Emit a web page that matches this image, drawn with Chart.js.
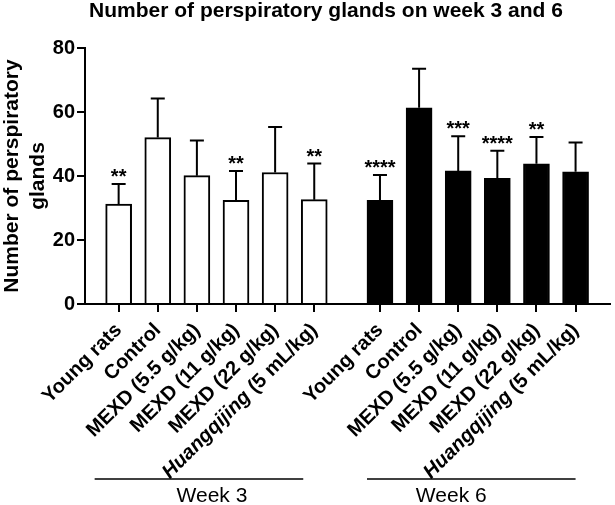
<!DOCTYPE html>
<html>
<head>
<meta charset="utf-8">
<title>Number of perspiratory glands on week 3 and 6</title>
<script src="https://cdn.jsdelivr.net/npm/chart.js@4.4.1/dist/chart.umd.min.js"></script>
<style>
  html, body { margin: 0; padding: 0; background: #fff; }
  #wrap { width: 615px; height: 505px; position: relative; }
</style>
</head>
<body>
<div id="wrap"><canvas id="glandChart"></canvas></div>
<script>
var categories = ['Young rats', 'Control', 'MEXD (5.5 g/kg)', 'MEXD (11 g/kg)', 'MEXD (22 g/kg)', 'Huangqijing (5 mL/kg)'];
var groupLabels = ['Week 3', 'Week 6'];
var week3Mean = [31.2, 52.0, 40.1, 32.4, 41.1, 32.6];
var week3SD = [6.3, 12.2, 11.0, 9.2, 14.2, 11.3];
var week3Stars = ['**', '', '', '**', '', '**'];
var week6Mean = [32.4, 61.3, 41.6, 39.3, 43.8, 41.3];
var week6SD = [7.9, 12.2, 10.8, 8.6, 8.4, 9.2];
var week6Stars = ['****', '', '***', '****', '**', ''];
var yTicks = [0, 20, 40, 60, 80];

var FONT = "'Liberation Sans', Arial, Helvetica, sans-serif";
var GAP = 0.68;            // extra room between the two weeks (in bar slots)
var italicWords = ['Huangqijing'];

// slot of bar i in week w on the linear x scale
function slot(i, w) { return i + w * (categories.length + GAP); }

function points(means, w) {
  return means.map(function(v, i) { return { x: slot(i, w), y: v }; });
}

var allSlots = [];
[0, 1].forEach(function(w) {
  categories.forEach(function(c, i) { allSlots.push(slot(i, w)); });
});

var extras = {
  id: 'extras',
  afterDatasetsDraw: function(chart) {
    var ctx = chart.ctx, ys = chart.scales.y;
    var groups = [
      { mean: week3Mean, sd: week3SD, stars: week3Stars },
      { mean: week6Mean, sd: week6SD, stars: week6Stars }
    ];
    ctx.save();
    ctx.strokeStyle = '#000';
    ctx.fillStyle = '#000';
    ctx.lineWidth = 2;
    groups.forEach(function(g, d) {
      chart.getDatasetMeta(d).data.forEach(function(bar, i) {
        var top = ys.getPixelForValue(g.mean[i] + g.sd[i]);
        ctx.beginPath();
        ctx.moveTo(bar.x, bar.y);
        ctx.lineTo(bar.x, top);
        ctx.moveTo(bar.x - 7, top);
        ctx.lineTo(bar.x + 7, top);
        ctx.stroke();
        if (g.stars[i]) {
          ctx.font = 'bold 20px ' + FONT;
          ctx.textAlign = 'center';
          ctx.textBaseline = 'alphabetic';
          ctx.fillText(g.stars[i], bar.x, top - 1);
        }
      });
    });
    ctx.restore();
  },
  afterDraw: function(chart) {
    var ctx = chart.ctx, xs = chart.scales.x;
    var base = xs.top + 27;
    ctx.save();
    ctx.fillStyle = '#000';
    ctx.strokeStyle = '#000';

    // title
    ctx.font = 'bold 21px ' + FONT;
    ctx.textAlign = 'center';
    ctx.textBaseline = 'alphabetic';
    ctx.fillText('Number of perspiratory glands on week 3 and 6', 326, 17);

    // rotated category labels, mixed italic for the herbal name
    [0, 1].forEach(function(w) {
      categories.forEach(function(name, i) {
        var px = xs.getPixelForValue(slot(i, w));
        ctx.save();
        ctx.translate(px + 4, base);
        ctx.rotate(-Math.PI / 4);
        ctx.textAlign = 'right';
        ctx.textBaseline = 'alphabetic';
        var it = italicWords.filter(function(word) { return name.indexOf(word) === 0; })[0];
        if (it) {
          var rest = name.slice(it.length);
          ctx.font = 'bold 20px ' + FONT;
          var wRest = ctx.measureText(rest).width;
          ctx.fillText(rest, 0, 0);
          ctx.font = 'italic bold 20px ' + FONT;
          ctx.fillText(it, -wRest, 0);
        } else {
          ctx.font = 'bold 20px ' + FONT;
          ctx.fillText(name, 0, 0);
        }
        ctx.restore();
      });
    });

    // week brackets
    var lines = [
      [xs.getPixelForValue(slot(0, 0)) - 24, xs.getPixelForValue(slot(5, 0)) - 11, 13],
      [xs.getPixelForValue(slot(0, 1)) - 13, xs.getPixelForValue(slot(5, 1)), -20]
    ];
    ctx.lineWidth = 1.5;
    ctx.font = '21px ' + FONT;
    ctx.textAlign = 'center';
    lines.forEach(function(l, w) {
      ctx.beginPath();
      ctx.moveTo(l[0], 479);
      ctx.lineTo(l[1], 479);
      ctx.stroke();
      ctx.fillText(groupLabels[w], (l[0] + l[1]) / 2 + l[2], 502);
    });
    ctx.restore();
  }
};

var ctx = document.getElementById('glandChart').getContext('2d');

var myChart = new Chart(ctx, {
  type: 'bar',
  data: {
    datasets: [{
      label: 'Week 3',
      data: points(week3Mean, 0),
      backgroundColor: '#fff',
      borderColor: '#000',
      borderWidth: 2
    }, {
      label: 'Week 6',
      data: points(week6Mean, 1),
      backgroundColor: '#000',
      borderColor: '#000',
      borderWidth: 2
    }]
  },
  options: {
    responsive: true,
    maintainAspectRatio: false,
    animation: false,
    grouped: false,
    barThickness: 26,
    layout: { padding: { left: 0, right: 5, top: 48, bottom: 0 } },
    plugins: {
      legend: { display: false },
      tooltip: { enabled: false }
    },
    scales: {
      x: {
        type: 'linear',
        offset: false,
        min: -0.86,
        max: slot(5, 1) + 0.88,
        afterBuildTicks: function(scale) {
          scale.ticks = allSlots.map(function(v) { return { value: v }; });
        },
        afterFit: function(scale) { scale.height = 201; },
        ticks: { display: false },
        grid: { offset: false, drawOnChartArea: false, drawTicks: true, tickLength: 8, color: '#000', lineWidth: 2 },
        border: { color: '#000', width: 2 }
      },
      y: {
        min: 0,
        max: 80,
        afterBuildTicks: function(scale) {
          scale.ticks = yTicks.map(function(v) { return { value: v }; });
        },
        afterFit: function(scale) { scale.width = 85; },
        ticks: { color: '#000', padding: 2, font: { family: FONT, size: 20, weight: 'bold' } },
        grid: { drawOnChartArea: false, drawTicks: true, tickLength: 8, color: '#000', lineWidth: 2 },
        border: { color: '#000', width: 2 },
        title: {
          display: true,
          text: ['Number of perspiratory', 'glands'],
          color: '#000',
          padding: { top: 0, bottom: 0 },
          font: { family: FONT, size: 21, weight: 'bold', lineHeight: 1.2 }
        }
      }
    }
  },
  plugins: [extras]
});
</script>
</body>
</html>
